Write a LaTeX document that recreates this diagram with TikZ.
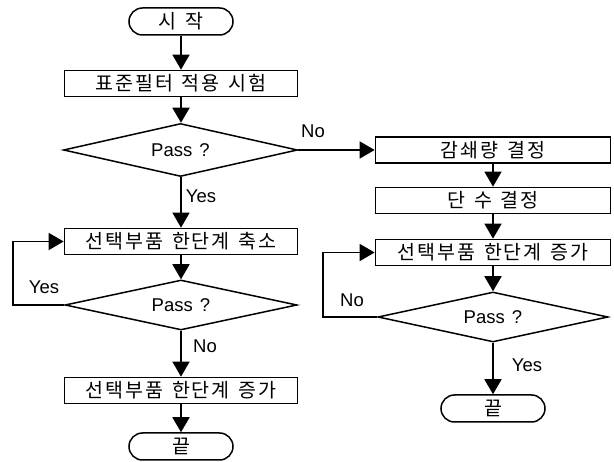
\documentclass[tikz,border=0pt]{standalone}
\usepackage{fontspec}
\setmainfont{Liberation Sans}
\newfontfamily\kr[LetterSpace=10,WordSpace=1.4]{Noto Sans CJK KR}
\usetikzlibrary{shapes.geometric,arrows.meta}
\begin{document}
\begin{tikzpicture}[x=1pt,y=-1pt,
  box/.style={draw, line width=1.7pt, minimum width=233pt, minimum height=26pt, inner sep=0pt, font=\kr\fontsize{19.5}{22}\selectfont},
  term/.style={draw, line width=1.5pt, rounded corners=13.5pt, minimum width=104pt, minimum height=27pt, inner sep=0pt, font=\kr\fontsize{19.5}{22}\selectfont},
  dec/.style={draw, diamond, line width=1.5pt, shape aspect=4.5, inner sep=0pt, font=\fontsize{18.5}{21}\selectfont},
  arr/.style={line width=1.7pt, -{Triangle[width=17pt,length=15pt]}},
  lbl/.style={font=\fontsize{18.5}{21}\selectfont, inner sep=0pt}]
\useasboundingbox (0,0) rectangle (614,462);
% left column
\node[term] (start) at (181,21.5) {시 작};
\node[box] (b1) at (181,83.5) {표준필터 적용 시험};
\node[dec, minimum width=234pt, minimum height=53pt] (d1) at (180.5,150) {Pass\hspace{2pt} ?};
\node[box] (b2) at (181,241.5) {선택부품 한단계 축소};
\node[dec, minimum width=232pt, minimum height=50pt] (d2) at (181,305) {Pass\hspace{2pt} ?};
\node[box] (b3) at (181,390.5) {선택부품 한단계 증가};
\node[term] (e1) at (181,446.5) {끝};
% right column
\node[box, minimum width=235pt] (b4) at (493,150) {감쇄량 결정};
\node[box, minimum width=235pt] (b5) at (493,200.5) {단 수 결정};
\node[box, minimum width=235pt] (b6) at (493,252.5) {선택부품 한단계 증가};
\node[dec, minimum width=230pt, minimum height=50pt] (d3) at (493,317) {Pass\hspace{2pt} ?};
\node[term] (e2) at (493,408.5) {끝};
\coordinate (l1) at (13,0);
\coordinate (l2) at (323,0);
% connectors
\draw[arr] (start.south) -- (b1.north);
\draw[arr] (b1.south) -- (b1.south |- d1.north);
\draw[arr] (b1.south |- d1.south) -- (b2.north);
\draw[arr] (b2.south) -- (d2.north);
\draw[arr] (d2.south) -- (b3.north);
\draw[arr] (b3.south) -- (e1.north);
\draw[arr] (d2.west) -| (l1 |- b2.west) -- (b2.west);
\draw[arr] (d1.east) -- (b4.west);
\draw[arr] (b4.south) -- (b5.north);
\draw[arr] (b5.south) -- (b6.north);
\draw[arr] (b6.south) -- (d3.north);
\draw[arr] (d3.south) -- (e2.north);
\draw[arr] (d3.west) -| (l2 |- b6.west) -- (b6.west);
% labels
\node[lbl] (n1) at (313,131) {No};
\node[lbl] (y1) at (201,196) {Yes};
\node[lbl] (y2) at (44,287) {Yes};
\node[lbl] (n2) at (205,346) {No};
\node[lbl] (n3) at (352,300) {No};
\node[lbl] (y3) at (527,365) {Yes};
\end{tikzpicture}
\end{document}
